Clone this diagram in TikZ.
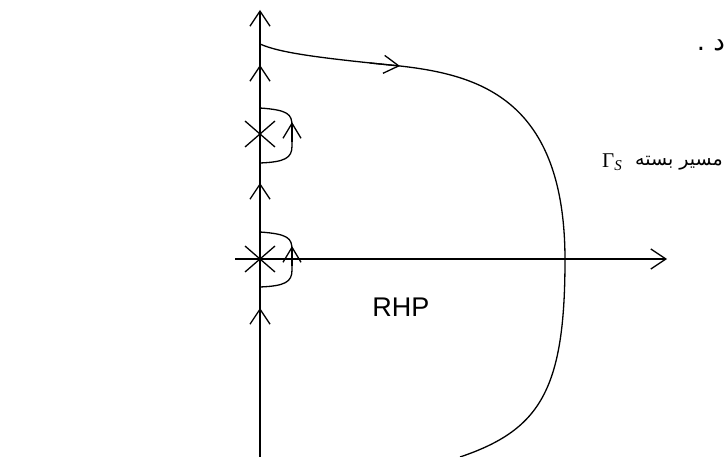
\documentclass[tikz,border=0pt]{standalone}
\usepackage{fontspec}
\setmainfont{Liberation Serif}
\newfontfamily\rhpfont{Liberation Sans}
\newfontfamily\farsifont[Script=Arabic]{DejaVu Sans}
\TeXXeTstate=1
\usetikzlibrary{arrows.meta}

\begin{document}
\begin{tikzpicture}[x=1pt,y=-1pt,line width=1.3pt,
    barb/.style={-{Straight Barb[length=15pt,width=20pt]}},
    smallbarb/.style={-{Straight Barb[length=15pt,width=18pt]}}]
    \useasboundingbox (0,0) rectangle (724,457);
    % eixos
    \coordinate (o) at (260,259);
    \coordinate (ybot) at (260,457);
    \coordinate (ytop) at (260,10);
    \coordinate (xleft) at (235,259);
    \coordinate (xright) at (667,259);
    \draw[barb] (xleft)--(xright);
    \draw[barb] (ybot)--(ytop);
    % setas sobre o eixo imaginario
    \foreach \y in {65,183,308}{
        \draw[barb] (260,\y+20)--(260,\y);
    }
    % polos
    \foreach \y in {134,259}{
        \draw (245,\y-13)--(275,\y+13);
        \draw (245,\y+13)--(275,\y-13);
    }
    % desvios em torno dos polos
    \foreach \y in {134,258}{
        \draw (260,\y-26) .. controls (288,\y-24) and (292,\y-20) .. (292,\y-8)
              -- (292,\y+12) .. controls (292,\y+24) and (285,\y+28) .. (260,\y+29);
        \draw[smallbarb] (292,\y+8)--(292,\y-12);
    }
    % contorno fechado
    \coordinate (start) at (260,44);
    \coordinate (mid) at (400,66);
    \coordinate (east) at (565,260);
    \coordinate (end) at (460,457);
    \draw (start) .. controls (280,53) and (320,58) .. (mid)
          .. controls (480,75) and (565,100) .. (east)
          .. controls (565,390) and (540,430) .. (end);
    \draw[smallbarb] (370,63)--(mid);
    % textos
    \node[font=\rhpfont\fontsize{27}{30}\selectfont] (rhp) at (401,307) {RHP};
    \node[font=\fontsize{21}{24}\selectfont] (gs) at (612,162)
        {Γ\raisebox{-0.35ex}{\fontsize{15}{17}\selectfont\itshape S}};
    \node[font=\farsifont\fontsize{19}{22}\selectfont] (closed) at (679,163) {\beginR مسیر بسته\endR};
    \node[font=\farsifont\fontsize{26}{30}\selectfont] (dal) at (711,45) {\beginR د .\endR};
\end{tikzpicture}
\end{document}
